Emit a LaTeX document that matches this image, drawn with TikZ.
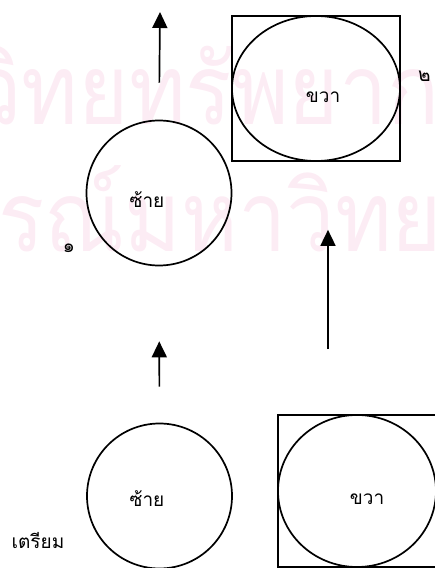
\documentclass[tikz,border=0pt]{standalone}
\usepackage{fontspec}
\newfontfamily\thaifont[Script=Thai]{Loma}
\usepackage{tikz}
\usetikzlibrary{arrows.meta,shapes.geometric}
\definecolor{wmark}{RGB}{252,236,244}

\begin{document}
\begin{tikzpicture}[
  x=1pt, y=1pt,
  font=\thaifont\fontsize{19}{21}\selectfont,
  ring/.style={draw, circle, line width=1.7pt, minimum size=145pt, inner sep=0pt},
  frame/.style={draw, rectangle, line width=1.7pt, inner sep=0pt},
  oval/.style={draw, ellipse, line width=1.7pt, inner sep=0pt},
  arrow/.style={-{Triangle[length=16pt,width=15pt]}, line width=1.7pt},
  word/.style={inner sep=0pt},
  wm/.style={anchor=base west, inner sep=0pt, text=wmark, xscale=0.88, transform shape, font=\thaifont\fontsize{98}{98}\selectfont}
]
\useasboundingbox (0,0) rectangle (435,568);

% watermark
\begin{scope}
\clip (0,0) rectangle (435,568);
\node[wm] (wm1) at (-27,443) {วิทยทรัพยากร};
\node[wm] (wm2) at (-2,316) {รณ์มหาวิทยาลัย};
\end{scope}

% prepared state (bottom)
\node[ring] (left0) at (159.5,72) {};
\node[frame, minimum width=158pt, minimum height=152pt] (right0) at (357,77) {};
\node[oval, minimum width=158pt, minimum height=152pt] (right0e) at (right0) {};
\node[word] (left0t) at (147,69) {ซ้าย};
\node[word] (right0t) at (367,69) {ขวา};
\node[word] (prep) at (38,27) {เตรียม};

% step 1 and 2 (top)
\node[ring] (left1) at (159,375) {};
\node[frame, minimum width=168pt, minimum height=145pt] (right1) at (316,479.5) {};
\node[oval, minimum width=168pt, minimum height=145pt] (right1e) at (right1) {};
\node[word] (left1t) at (147,368) {ซ้าย};
\node[word] (right1t) at (323,471) {ขวา};
\node[word] (num1) at (69,320) {๑};
\node[word, anchor=west] (num2) at (418,492) {๒};

\coordinate (out1) at (160,556);
\coordinate (mid) at (328,300);

\draw[arrow, shorten >=75pt, shorten <=36pt] (left0.north) -- (left1.south);
\draw[arrow, shorten <=37pt] (left1.north) -- (out1);
\draw[arrow, shorten <=65pt, shorten >=68pt] (right0.north -| mid) -- (right1.south -| mid);
\end{tikzpicture}
\end{document}
